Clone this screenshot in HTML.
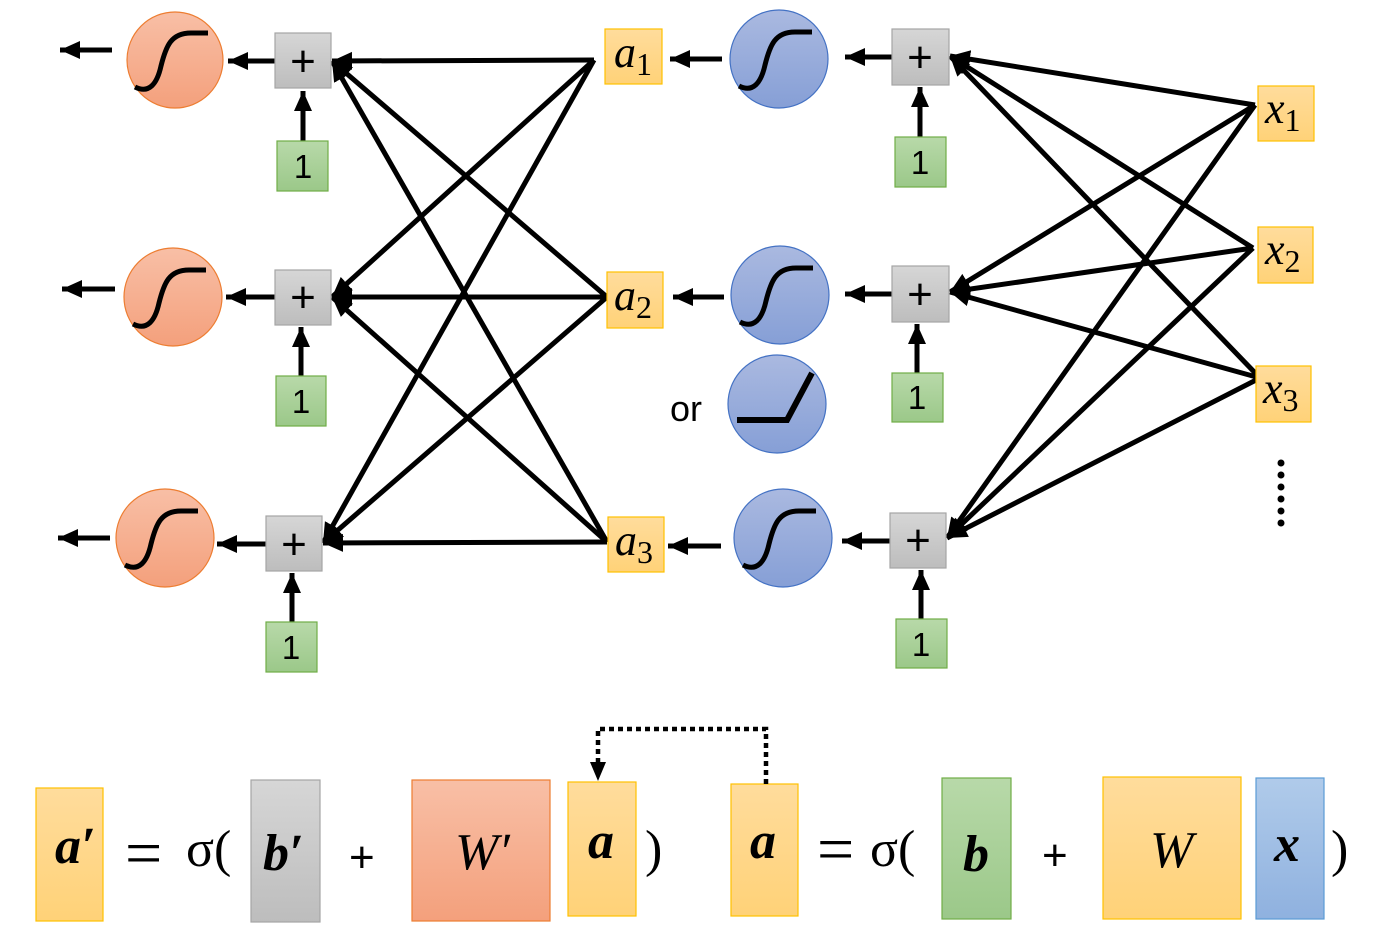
<!DOCTYPE html>
<html><head><meta charset="utf-8"><style>
html,body{margin:0;padding:0;background:#fff;}
svg{display:block;}
text{font-family:"Liberation Serif",serif;}
.s{font-family:"Liberation Sans","DejaVu Sans",sans-serif;}
</style></head><body>
<svg width="1384" height="938" viewBox="0 0 1384 938" xmlns="http://www.w3.org/2000/svg">
<defs>
<marker id="ar" markerUnits="userSpaceOnUse" markerWidth="22" markerHeight="20" refX="20" refY="10" orient="auto"><path d="M0,1 L20,10 L0,19 Z" fill="#000"/></marker>
<linearGradient id="go" x1="0" y1="0" x2="0" y2="1"><stop offset="0" stop-color="#F8BFA6"/><stop offset="1" stop-color="#F4A07C"/></linearGradient>
<linearGradient id="gb" x1="0" y1="0" x2="0" y2="1"><stop offset="0" stop-color="#AAB9E0"/><stop offset="1" stop-color="#869FD6"/></linearGradient>
<linearGradient id="gg" x1="0" y1="0" x2="0" y2="1"><stop offset="0" stop-color="#D6D6D6"/><stop offset="1" stop-color="#BDBDBD"/></linearGradient>
<linearGradient id="gn" x1="0" y1="0" x2="0" y2="1"><stop offset="0" stop-color="#B8D9A9"/><stop offset="1" stop-color="#9BC889"/></linearGradient>
<linearGradient id="gy" x1="0" y1="0" x2="0" y2="1"><stop offset="0" stop-color="#FFDC9C"/><stop offset="1" stop-color="#FFD278"/></linearGradient>
<linearGradient id="gl" x1="0" y1="0" x2="0" y2="1"><stop offset="0" stop-color="#B0CBEA"/><stop offset="1" stop-color="#8FB1DF"/></linearGradient>
<path id="sig" d="M-40 27 C-26 34 -18 24 -14 6 C-9 -14 -4 -27 16 -27 L33 -27" fill="none" stroke="#000" stroke-width="5"/>
</defs>
<g stroke="#000" stroke-width="5" fill="none">
<line x1="112" y1="50" x2="60" y2="50" marker-end="url(#ar)"/>
<line x1="115" y1="289" x2="62" y2="289" marker-end="url(#ar)"/>
<line x1="110" y1="538" x2="58" y2="538" marker-end="url(#ar)"/>
<line x1="275" y1="61" x2="228" y2="61" marker-end="url(#ar)"/>
<line x1="275" y1="297" x2="226" y2="297" marker-end="url(#ar)"/>
<line x1="266" y1="544" x2="217" y2="544" marker-end="url(#ar)"/>
<line x1="303" y1="141" x2="303" y2="91" marker-end="url(#ar)"/>
<line x1="301" y1="376" x2="301" y2="327" marker-end="url(#ar)"/>
<line x1="292" y1="622" x2="292" y2="573" marker-end="url(#ar)"/>
<line x1="594" y1="60" x2="332" y2="61" marker-end="url(#ar)"/>
<line x1="594" y1="60" x2="332" y2="297" marker-end="url(#ar)"/>
<line x1="594" y1="60" x2="323" y2="543" marker-end="url(#ar)"/>
<line x1="607" y1="297" x2="332" y2="61" marker-end="url(#ar)"/>
<line x1="607" y1="297" x2="332" y2="297" marker-end="url(#ar)"/>
<line x1="607" y1="297" x2="323" y2="543" marker-end="url(#ar)"/>
<line x1="607" y1="542" x2="332" y2="61" marker-end="url(#ar)"/>
<line x1="607" y1="542" x2="332" y2="297" marker-end="url(#ar)"/>
<line x1="607" y1="542" x2="323" y2="543" marker-end="url(#ar)"/>
<line x1="722" y1="59" x2="670" y2="59" marker-end="url(#ar)"/>
<line x1="724" y1="297" x2="673" y2="297" marker-end="url(#ar)"/>
<line x1="721" y1="546" x2="668" y2="546" marker-end="url(#ar)"/>
<line x1="892" y1="57" x2="845" y2="57" marker-end="url(#ar)"/>
<line x1="892" y1="294" x2="845" y2="294" marker-end="url(#ar)"/>
<line x1="890" y1="541" x2="842" y2="541" marker-end="url(#ar)"/>
<line x1="920" y1="137" x2="920" y2="87" marker-end="url(#ar)"/>
<line x1="917" y1="373" x2="917" y2="324" marker-end="url(#ar)"/>
<line x1="921" y1="619" x2="921" y2="570" marker-end="url(#ar)"/>
<line x1="1255" y1="105" x2="950" y2="56" marker-end="url(#ar)"/>
<line x1="1255" y1="105" x2="950" y2="292" marker-end="url(#ar)"/>
<line x1="1255" y1="105" x2="947" y2="538" marker-end="url(#ar)"/>
<line x1="1253" y1="248" x2="950" y2="56" marker-end="url(#ar)"/>
<line x1="1253" y1="248" x2="950" y2="292" marker-end="url(#ar)"/>
<line x1="1253" y1="248" x2="947" y2="538" marker-end="url(#ar)"/>
<line x1="1260" y1="378" x2="950" y2="56" marker-end="url(#ar)"/>
<line x1="1260" y1="378" x2="950" y2="292" marker-end="url(#ar)"/>
<line x1="1260" y1="378" x2="947" y2="538" marker-end="url(#ar)"/>
</g>
<circle cx="175" cy="60" r="48" fill="url(#go)" stroke="#ED7D31" stroke-width="1.2"/>
<use href="#sig" transform="translate(175,60)"/>
<circle cx="173" cy="297" r="49" fill="url(#go)" stroke="#ED7D31" stroke-width="1.2"/>
<use href="#sig" transform="translate(173,297)"/>
<circle cx="165" cy="538" r="49" fill="url(#go)" stroke="#ED7D31" stroke-width="1.2"/>
<use href="#sig" transform="translate(165,538)"/>
<circle cx="779" cy="59" r="49" fill="url(#gb)" stroke="#4472C4" stroke-width="1.2"/>
<use href="#sig" transform="translate(779,59)"/>
<circle cx="780" cy="295" r="49" fill="url(#gb)" stroke="#4472C4" stroke-width="1.2"/>
<use href="#sig" transform="translate(780,295)"/>
<circle cx="777" cy="404" r="49" fill="url(#gb)" stroke="#4472C4" stroke-width="1.2"/>
<path d="M737 420 L787 420 L812 373" fill="none" stroke="#000" stroke-width="6"/>
<circle cx="783" cy="538" r="49" fill="url(#gb)" stroke="#4472C4" stroke-width="1.2"/>
<use href="#sig" transform="translate(783,538)"/>
<text x="670" y="421" class="s" font-size="36">or</text>
<g fill="url(#gg)" stroke="#A5A5A5" stroke-width="1.2">
<rect x="275" y="33" width="56" height="55"/><rect x="275" y="270" width="56" height="55"/><rect x="266" y="516" width="56" height="55"/>
<rect x="892" y="29" width="57" height="56"/><rect x="892" y="266" width="57" height="56"/><rect x="890" y="513" width="56" height="55"/>
</g>
<g text-anchor="middle" fill="#000">
<text x="303" y="76" class="s" font-size="44">+</text><text x="303" y="312" class="s" font-size="44">+</text><text x="294" y="559" class="s" font-size="44">+</text>
<text x="920" y="72" class="s" font-size="44">+</text><text x="920" y="309" class="s" font-size="44">+</text><text x="918" y="555" class="s" font-size="44">+</text>
</g>
<g fill="url(#gn)" stroke="#70AD47" stroke-width="1.2">
<rect x="277" y="141" width="51" height="50"/><rect x="276" y="376" width="50" height="50"/><rect x="266" y="622" width="51" height="50"/>
<rect x="895" y="137" width="51" height="50"/><rect x="892" y="373" width="51" height="49"/><rect x="896" y="619" width="51" height="49"/>
</g>
<g text-anchor="middle" fill="#000">
<text x="303" y="178" class="s" font-size="33">1</text><text x="301" y="413" class="s" font-size="33">1</text><text x="291" y="659" class="s" font-size="33">1</text>
<text x="920" y="174" class="s" font-size="33">1</text><text x="917" y="409" class="s" font-size="33">1</text><text x="921" y="656" class="s" font-size="33">1</text>
</g>
<g fill="url(#gy)" stroke="#FFC000" stroke-width="1.2">
<rect x="605" y="29" width="57" height="55"/><rect x="607" y="272" width="56" height="56"/><rect x="608" y="517" width="56" height="55"/>
<rect x="1258" y="86" width="56" height="55"/><rect x="1258" y="227" width="55" height="56"/><rect x="1256" y="366" width="55" height="56"/>
</g>
<g font-size="44" font-style="italic" fill="#000">
<text x="614" y="67">a<tspan font-size="32" font-style="normal" dy="8">1</tspan></text>
<text x="614" y="310">a<tspan font-size="32" font-style="normal" dy="8">2</tspan></text>
<text x="615" y="555">a<tspan font-size="32" font-style="normal" dy="8">3</tspan></text>
<text x="1265" y="123">x<tspan font-size="32" font-style="normal" dy="8">1</tspan></text>
<text x="1265" y="264">x<tspan font-size="32" font-style="normal" dy="8">2</tspan></text>
<text x="1263" y="403">x<tspan font-size="32" font-style="normal" dy="8">3</tspan></text>
</g>
<g fill="#000"><circle cx="1281" cy="463" r="3.5"/><circle cx="1281" cy="475" r="3.5"/><circle cx="1281" cy="487" r="3.5"/><circle cx="1281" cy="499" r="3.5"/><circle cx="1281" cy="511" r="3.5"/><circle cx="1281" cy="523" r="3.5"/></g>
<rect x="36" y="788" width="67" height="133" fill="url(#gy)" stroke="#FFC000" stroke-width="1.2"/>
<rect x="251" y="780" width="69" height="142" fill="url(#gg)" stroke="#A5A5A5" stroke-width="1.2"/>
<rect x="412" y="780" width="138" height="141" fill="url(#go)" stroke="#ED7D31" stroke-width="1.2"/>
<rect x="568" y="782" width="68" height="134" fill="url(#gy)" stroke="#FFC000" stroke-width="1.2"/>
<rect x="731" y="784" width="67" height="132" fill="url(#gy)" stroke="#FFC000" stroke-width="1.2"/>
<rect x="942" y="778" width="69" height="141" fill="url(#gn)" stroke="#70AD47" stroke-width="1.2"/>
<rect x="1103" y="777" width="138" height="142" fill="url(#gy)" stroke="#FFC000" stroke-width="1.2"/>
<rect x="1256" y="778" width="68" height="141" fill="url(#gl)" stroke="#5B9BD5" stroke-width="1.2"/>
<g fill="#000" font-size="52">
<text x="55" y="863" font-style="italic" font-weight="bold">a′</text>
<text x="125" y="875" font-size="66">=</text>
<text x="186" y="866">σ(</text>
<text x="263" y="870" font-style="italic" font-weight="bold">b′</text>
<text x="349" y="872" class="s" font-size="44">+</text>
<text x="455" y="869" font-style="italic">W′</text>
<text x="588" y="858" font-style="italic" font-weight="bold">a</text>
<text x="645" y="866">)</text>
<text x="750" y="858" font-style="italic" font-weight="bold">a</text>
<text x="817" y="871" font-size="66">=</text>
<text x="870" y="866">σ(</text>
<text x="963" y="871" font-style="italic" font-weight="bold">b</text>
<text x="1042" y="870" class="s" font-size="44">+</text>
<text x="1150" y="867" font-style="italic">W</text>
<text x="1274" y="861" font-style="italic" font-weight="bold">x</text>
<text x="1331" y="866">)</text>
</g>
<path d="M766 784 L766 729 L598 729 L598 762" fill="none" stroke="#000" stroke-width="4.5" stroke-dasharray="5,4"/>
<path d="M590 762 L606 762 L598 781 Z" fill="#000"/>
</svg>
</body></html>
